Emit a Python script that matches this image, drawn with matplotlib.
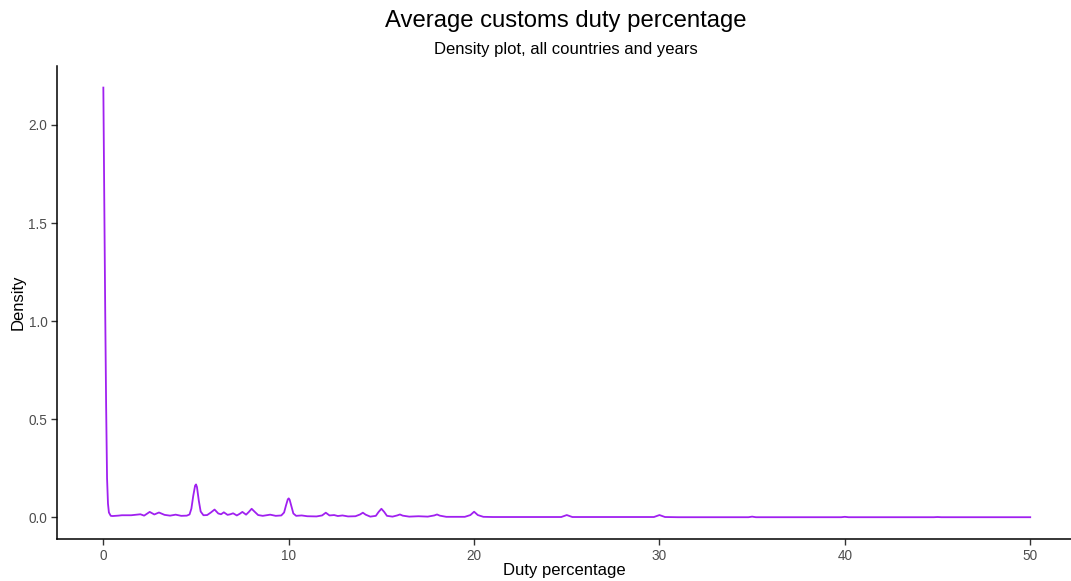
import matplotlib
matplotlib.use('Agg')
import matplotlib.pyplot as plt

plt.rcParams['font.family'] = ['Liberation Sans', 'DejaVu Sans']

# density curve (duty percentage vs density)
duty = [0, 0.05, 0.1, 0.15, 0.2, 0.25, 0.3, 0.4, 0.5, 0.8, 1.0, 1.5, 2.0, 2.2, 2.5, 2.75, 3.0, 3.3, 3.6, 3.9,
        4.2, 4.5, 4.65, 4.75, 4.85, 4.95, 5.0, 5.05, 5.15, 5.25, 5.4, 5.6, 5.8, 6.0, 6.2, 6.35, 6.5, 6.7,
        6.85, 7.0, 7.2, 7.35, 7.5, 7.7, 7.85, 8.0, 8.15, 8.35, 8.6, 9.0, 9.3, 9.6, 9.75, 9.85, 9.95, 10.0,
        10.05, 10.15, 10.25, 10.4, 10.7, 11.0, 11.5, 11.8, 12.0, 12.2, 12.45, 12.65, 12.9, 13.2, 13.6, 13.85,
        14.0, 14.15, 14.4, 14.7, 14.85, 15.0, 15.15, 15.3, 15.6, 15.85, 16.0, 16.15, 16.5, 17.0, 17.5, 17.85,
        18.0, 18.15, 18.5, 19.0, 19.5, 19.8, 20.0, 20.2, 20.5, 21, 22, 24.7, 25.0, 25.3, 26, 27, 29.7, 30.0,
        30.3, 31, 34.8, 35.0, 35.2, 39.8, 40, 40.2, 44.8, 45, 45.2, 50]
density = [2.19, 1.62, 1.06, 0.57, 0.2, 0.07, 0.025, 0.008, 0.007, 0.009, 0.011, 0.011, 0.016, 0.009, 0.028,
           0.015, 0.025, 0.013, 0.009, 0.014, 0.008, 0.009, 0.015, 0.045, 0.11, 0.162, 0.168, 0.155, 0.085,
           0.03, 0.011, 0.012, 0.025, 0.04, 0.02, 0.016, 0.026, 0.013, 0.016, 0.021, 0.01, 0.018, 0.028,
           0.014, 0.028, 0.044, 0.03, 0.012, 0.008, 0.014, 0.008, 0.01, 0.025, 0.06, 0.092, 0.097, 0.09,
           0.055, 0.02, 0.008, 0.01, 0.006, 0.005, 0.01, 0.024, 0.01, 0.012, 0.007, 0.01, 0.005, 0.006,
           0.015, 0.024, 0.014, 0.004, 0.008, 0.028, 0.044, 0.028, 0.008, 0.004, 0.01, 0.015, 0.009, 0.004,
           0.006, 0.004, 0.01, 0.015, 0.009, 0.003, 0.003, 0.003, 0.012, 0.029, 0.012, 0.003, 0.002, 0.002,
           0.002, 0.012, 0.002, 0.002, 0.002, 0.002, 0.012, 0.002, 0.001, 0.001, 0.004, 0.001, 0.001, 0.003,
           0.001, 0.001, 0.002, 0.001, 0.001]

xticks = [0, 10, 20, 30, 40, 50]
yticks = [0.0, 0.5, 1.0, 1.5, 2.0]

fig = plt.figure(figsize=(10.71, 5.81), dpi=100)
ax = fig.add_axes([57/1071, 42/581, 1 - 57/1071, 473/581])

ax.plot(duty, density, color='#A020F0', lw=1.3)

ax.set_xlim(-2.5, 52.2)
ax.set_ylim(-0.11, 2.30)
ax.set_xticks(xticks)
ax.set_yticks(yticks)
ax.set_yticklabels(['%.1f' % v for v in yticks])

for s in ['top', 'right']:
    ax.spines[s].set_visible(False)
for s in ['left', 'bottom']:
    ax.spines[s].set_linewidth(1.1)
ax.tick_params(direction='out', length=4, width=1, color='#333333', labelcolor='#4D4D4D', labelsize=9.8, pad=3)

ax.set_xlabel('Duty percentage', fontsize=12, labelpad=0)
ax.set_ylabel('Density', fontsize=12, labelpad=2)

fig.text(0.528, 0.963, 'Average customs duty percentage', ha='center', va='center', fontsize=17.2)
fig.text(0.528, 0.914, 'Density plot, all countries and years', ha='center', va='center', fontsize=12)

fig.savefig('out.png', dpi=100)
